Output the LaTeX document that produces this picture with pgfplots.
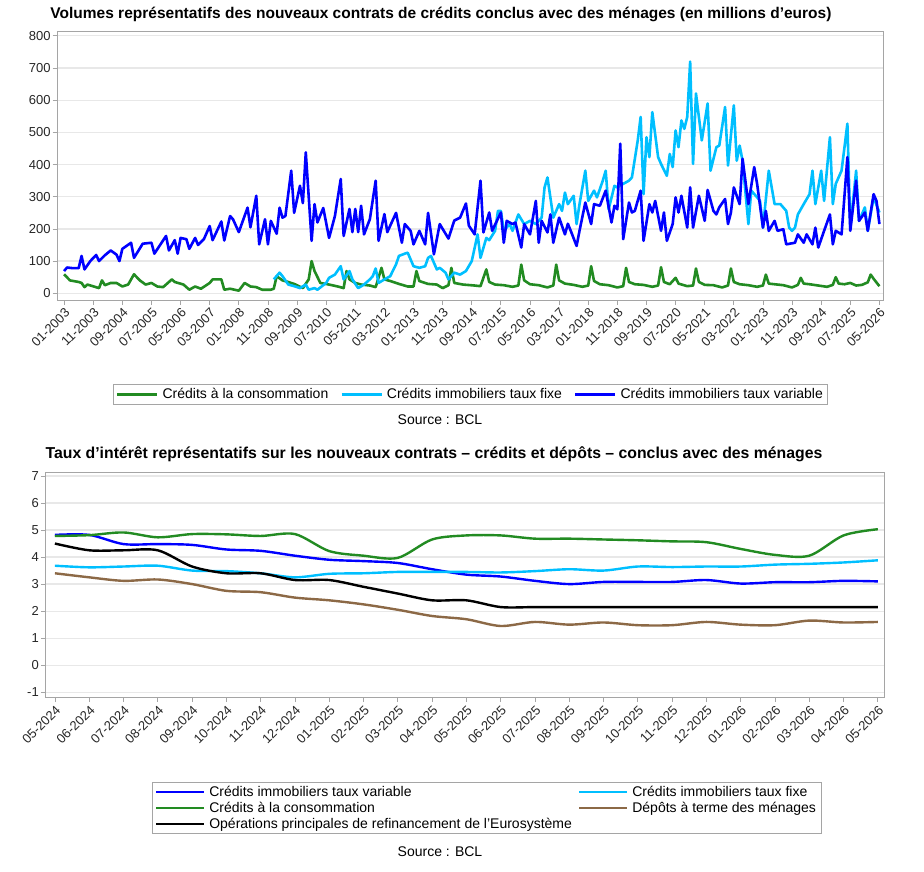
\documentclass[border=0pt]{standalone}
\usepackage{fontspec}
\setmainfont{Liberation Sans}
\usepackage{pgfplots}
\pgfplotsset{compat=1.18}
\definecolor{cgreen}{RGB}{34,139,34}
\definecolor{clight}{RGB}{0,191,255}
\definecolor{cblue}{RGB}{0,0,255}
\definecolor{cbrown}{RGB}{140,105,70}
\definecolor{cframe}{RGB}{165,165,165}
\definecolor{cgrid}{RGB}{232,232,232}
\pgfplotsset{
  myaxis/.style={
    scale only axis, anchor=north west,
    axis line style={cframe, line width=1pt},
    tick style={cframe, line width=0.8pt},
    tick align=outside, major tick length=5pt, tick pos=left,
    ymajorgrids, grid style={cgrid, line width=1.2pt},
    /pgf/number format/assume math mode=true,
    ticklabel style={font=\fontsize{13}{15}\selectfont, text=black!85},
    xticklabel style={rotate=45, anchor=north east, inner sep=1.5pt},
    yticklabel style={inner sep=2pt},
    legend style={draw=cframe, line width=0.8pt, font=\fontsize{14}{16}\selectfont,
      /tikz/every even column/.append style={column sep=4pt}},
    legend cell align=left,
  }
}
\begin{document}
\begin{tikzpicture}
\useasboundingbox (0pt,0pt) rectangle (924pt,-872pt);
\node[font=\bfseries\fontsize{15.5}{18}\selectfont] at (441pt,-14pt) {Volumes représentatifs des nouveaux contrats de crédits conclus avec des ménages (en millions d'euros)};
\begin{axis}[myaxis, at={(57.7pt,-31.7pt)}, width=825.5pt, height=268.3pt,
  xmin=-2.2, xmax=281.3, ymin=-21, ymax=813,
  ytick={0,100,...,800},
  xtick={0,10,...,280},
  xticklabels={01-2003,11-2003,09-2004,07-2005,05-2006,03-2007,01-2008,11-2008,09-2009,07-2010,05-2011,03-2012,01-2013,11-2013,09-2014,07-2015,05-2016,03-2017,01-2018,11-2018,09-2019,07-2020,05-2021,03-2022,01-2023,11-2023,09-2024,07-2025,05-2026},
  legend columns=3,
  legend image code/.code={\draw[#1] (0pt,0pt) -- (40pt,0pt);},
  legend style={at={(0.5,-0.313)}, anchor=north,
    /tikz/every odd column/.append style={column sep=2pt},
    /tikz/every even column/.append style={column sep=10pt}},
]
\addplot[cgreen, line width=2.6pt, line join=round] coordinates {
(0,59)(2,40)(5,35)(6,32)(7,19)(8,27)(12,16)(13,40)(14,25)(16,32)(18,32)(20,21)(22,27)(24,59)(26,40)(28,27)(30,32)(32,21)(34,19)(37,43)(38,35)(41,27)(43,11)(45,21)(47,14)(50,32)(51,43)(54,43)(55,11)(57,14)(60,8)(62,32)(64,21)(66,19)(68,11)(71,11)(72,14)(73,53)(75,40)(77,35)(79,29)(82,16)(84,43)(85,100)(86,69)(88,32)(91,27)(94,21)(96,16)(97,69)(98,43)(100,32)(102,27)(105,24)(107,19)(109,79)(110,43)(112,38)(115,29)(118,21)(120,21)(121,69)(122,38)(125,29)(128,27)(130,16)(132,25)(133,79)(134,32)(137,27)(141,24)(143,22)(145,74)(146,35)(148,27)(151,25)(154,20)(156,24)(157,89)(158,40)(160,28)(163,25)(166,18)(168,24)(169,89)(170,40)(172,30)(175,26)(178,20)(180,24)(181,84)(182,38)(184,28)(187,25)(190,18)(192,22)(193,79)(194,35)(196,28)(199,26)(202,20)(204,24)(205,81)(206,35)(208,28)(210,48)(211,30)(214,22)(216,24)(217,77)(218,35)(220,26)(223,25)(226,18)(228,24)(229,77)(230,35)(232,28)(235,25)(238,20)(240,24)(241,58)(242,30)(244,28)(247,25)(250,18)(252,26)(253,48)(254,30)(256,28)(259,24)(262,20)(264,26)(265,50)(266,30)(268,28)(270,32)(272,24)(274,26)(276,34)(277,58)(278,45)(280,22)};
\addlegendentry{Crédits à la consommation}
\addplot[clight, line width=2.6pt, line join=round] coordinates {
(72,43)(74,64)(75,53)(77,27)(79,22)(81,16)(83,27)(84,11)(86,16)(87,11)(90,32)(91,48)(93,58)(95,84)(96,43)(98,69)(99,43)(101,16)(103,27)(105,43)(106,53)(107,77)(108,32)(110,43)(112,53)(114,90)(115,116)(117,123)(118,126)(120,84)(122,79)(124,84)(125,110)(126,116)(128,74)(129,79)(131,64)(132,43)(134,64)(136,58)(138,69)(140,100)(142,183)(143,110)(145,172)(146,165)(148,194)(149,256)(150,256)(151,194)(153,215)(154,194)(156,245)(158,215)(160,225)(162,215)(164,235)(165,329)(166,360)(168,235)(170,277)(171,256)(172,313)(173,277)(175,303)(176,215)(177,277)(179,381)(180,287)(182,319)(183,298)(185,350)(186,381)(187,261)(189,334)(190,329)(192,340)(194,350)(195,360)(197,475)(198,548)(199,308)(200,485)(201,423)(202,563)(204,423)(205,402)(207,365)(208,433)(209,392)(210,506)(211,454)(212,537)(213,511)(214,548)(215,720)(216,402)(217,621)(218,548)(219,475)(221,590)(222,381)(224,454)(225,459)(227,579)(228,397)(230,584)(231,412)(232,459)(233,412)(235,215)(236,319)(238,298)(239,287)(240,204)(242,381)(244,277)(246,277)(248,256)(249,204)(250,194)(251,204)(252,245)(254,277)(256,308)(257,381)(258,277)(260,381)(261,287)(263,485)(264,277)(265,340)(267,381)(269,527)(270,204)(272,381)(273,225)(275,267)(276,194)(278,298)(280,251)};
\addlegendentry{Crédits immobiliers taux fixe}
\addplot[cblue, line width=2.6pt, line join=round] coordinates {
(0,69)(1,80)(3,78)(5,78)(6,116)(7,74)(9,100)(11,119)(12,100)(14,118)(16,133)(18,120)(19,100)(20,138)(23,157)(24,110)(27,154)(30,157)(31,123)(35,178)(36,133)(38,165)(39,123)(40,172)(42,168)(43,138)(45,172)(46,150)(48,168)(50,209)(51,165)(54,223)(55,164)(57,240)(58,230)(60,190)(63,266)(64,205)(66,303)(67,152)(69,230)(70,152)(71,225)(73,185)(74,266)(75,235)(76,240)(78,381)(79,250)(81,334)(82,280)(83,438)(85,163)(86,277)(87,220)(89,265)(91,172)(93,240)(95,355)(96,178)(98,262)(99,190)(100,262)(101,190)(102,272)(103,183)(105,230)(107,350)(108,163)(110,246)(111,190)(114,250)(116,157)(117,215)(119,194)(120,152)(122,194)(124,152)(125,250)(127,121)(129,215)(130,200)(132,170)(134,226)(136,235)(138,279)(139,210)(141,183)(143,350)(144,189)(146,251)(147,194)(150,251)(151,157)(152,225)(154,215)(155,220)(157,142)(158,215)(160,183)(162,287)(163,157)(164,225)(166,189)(167,245)(168,157)(170,235)(172,183)(173,216)(174,194)(176,147)(177,194)(179,282)(181,215)(182,277)(184,272)(186,319)(188,220)(189,272)(190,261)(191,465)(192,168)(194,282)(195,251)(196,256)(198,319)(199,163)(201,277)(202,251)(203,287)(205,194)(206,251)(207,163)(209,215)(210,298)(211,251)(212,303)(214,204)(215,329)(216,204)(218,303)(220,225)(221,321)(223,256)(224,245)(225,267)(227,293)(228,215)(229,251)(230,329)(232,277)(233,418)(235,277)(237,392)(238,340)(240,204)(241,256)(242,194)(244,225)(245,194)(247,199)(248,152)(251,157)(252,183)(254,157)(255,183)(257,152)(258,204)(259,142)(261,194)(263,245)(264,152)(265,194)(267,183)(269,423)(270,194)(272,350)(273,225)(275,251)(276,194)(278,308)(279,287)(280,215)};
\addlegendentry{Crédits immobiliers taux variable}
\end{axis}
\node[font=\fontsize{14}{16}\selectfont] at (440pt,-420pt) {Source : BCL};
\node[font=\bfseries\fontsize{15.8}{18}\selectfont] at (434pt,-454pt) {Taux d'intérêt représentatifs sur les nouveaux contrats – crédits et dépôts – conclus avec des ménages};
\begin{axis}[myaxis, at={(46pt,-472.7pt)}, width=838pt, height=224.4pt,
  xmin=-0.26, xmax=24.18, ymin=-1.18, ymax=7.12,
  ytick={-1,0,...,7},
  xtick={0,1,...,24},
  xticklabels={05-2024,06-2024,07-2024,08-2024,09-2024,10-2024,11-2024,12-2024,01-2025,02-2025,03-2025,04-2025,05-2025,06-2025,07-2025,08-2025,09-2025,10-2025,11-2025,12-2025,01-2026,02-2026,03-2026,04-2026,05-2026},
  legend columns=2,
  legend image code/.code={\draw[#1] (0pt,0pt) -- (48pt,0pt);},
  legend style={at={(0.5256,-0.3775)}, anchor=north,
    /tikz/every odd column/.append style={column sep=2pt},
    /tikz/column 2/.style={column sep=28pt}},
]
\addplot[cblue, line width=2.4pt, smooth, tension=0.5] coordinates {
(0,4.82)(1,4.82)(2,4.48)(3,4.48)(4,4.45)(5,4.28)(6,4.23)(7,4.05)(8,3.9)(9,3.85)(10,3.78)(11,3.55)(12,3.35)(13,3.28)(14,3.12)(15,3.0)(16,3.08)(17,3.08)(18,3.08)(19,3.15)(20,3.02)(21,3.07)(22,3.07)(23,3.12)(24,3.1)};
\addlegendentry{Crédits immobiliers taux variable}
\addplot[clight, line width=2.4pt, smooth, tension=0.5] coordinates {
(0,3.68)(1,3.62)(2,3.65)(3,3.68)(4,3.5)(5,3.48)(6,3.4)(7,3.25)(8,3.38)(9,3.4)(10,3.45)(11,3.45)(12,3.45)(13,3.43)(14,3.48)(15,3.55)(16,3.5)(17,3.65)(18,3.63)(19,3.65)(20,3.65)(21,3.72)(22,3.75)(23,3.8)(24,3.88)};
\addlegendentry{Crédits immobiliers taux fixe}
\addplot[cgreen, line width=2.4pt, smooth, tension=0.5] coordinates {
(0,4.78)(1,4.81)(2,4.91)(3,4.73)(4,4.85)(5,4.84)(6,4.78)(7,4.85)(8,4.22)(9,4.05)(10,3.97)(11,4.65)(12,4.8)(13,4.8)(14,4.68)(15,4.68)(16,4.65)(17,4.62)(18,4.58)(19,4.55)(20,4.3)(21,4.08)(22,4.05)(23,4.8)(24,5.03)};
\addlegendentry{Crédits à la consommation}
\addplot[cbrown, line width=2.4pt, smooth, tension=0.5] coordinates {
(0,3.4)(1,3.25)(2,3.12)(3,3.17)(4,3.0)(5,2.75)(6,2.7)(7,2.5)(8,2.4)(9,2.25)(10,2.05)(11,1.82)(12,1.7)(13,1.45)(14,1.6)(15,1.5)(16,1.58)(17,1.48)(18,1.48)(19,1.6)(20,1.5)(21,1.48)(22,1.65)(23,1.58)(24,1.6)};
\addlegendentry{Dépôts à terme des ménages}
\addplot[black, line width=2.4pt, smooth, tension=0.5] coordinates {
(0,4.5)(1,4.25)(2,4.25)(3,4.25)(4,3.65)(5,3.4)(6,3.4)(7,3.15)(8,3.15)(9,2.9)(10,2.65)(11,2.4)(12,2.4)(13,2.15)(14,2.15)(15,2.15)(16,2.15)(17,2.15)(18,2.15)(19,2.15)(20,2.15)(21,2.15)(22,2.15)(23,2.15)(24,2.15)};
\addlegendentry{Opérations principales de refinancement de l'Eurosystème}
\end{axis}
\node[font=\fontsize{14}{16}\selectfont] at (440pt,-852pt) {Source : BCL};
\end{tikzpicture}
\end{document}
